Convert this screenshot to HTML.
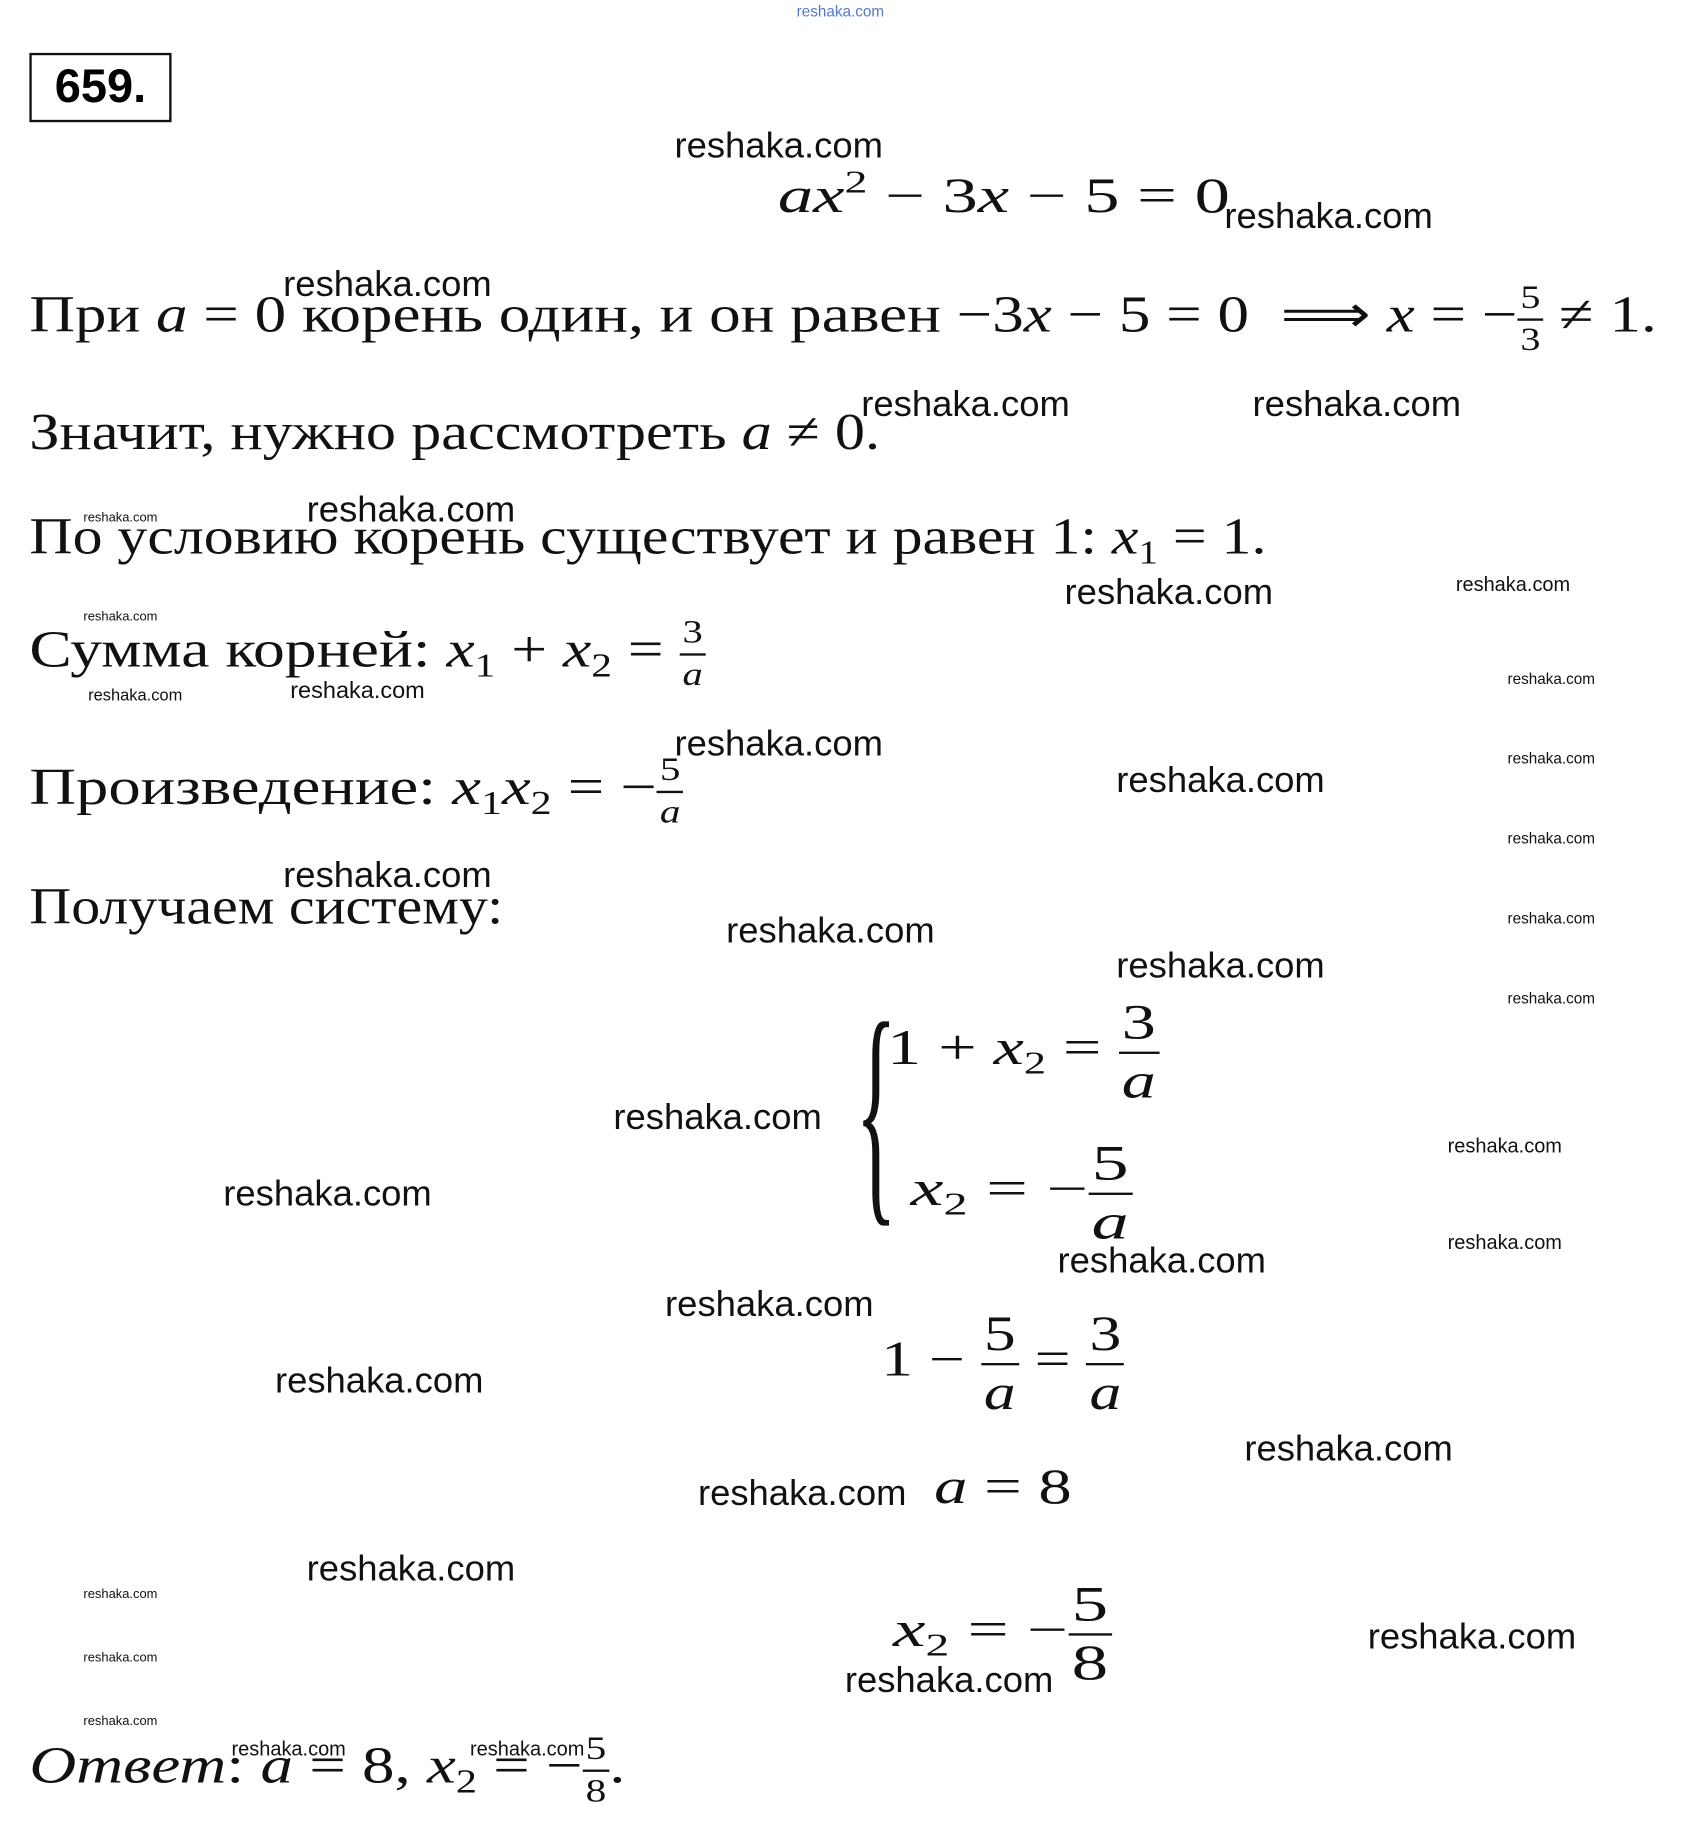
<!DOCTYPE html>
<html><head><meta charset="utf-8"><style>
html,body{margin:0;padding:0;background:#fff;}
body{width:1692px;height:1848px;overflow:hidden;position:relative;}
#w{position:absolute;left:0;top:0;width:1440px;height:1573px;transform:scale(1.175);transform-origin:0 0;}
.a{position:absolute;white-space:nowrap;transform-origin:0 50%;}
.t{font-family:"Liberation Serif",serif;font-size:44px;color:#111;line-height:1;}
.m{font-family:"Liberation Serif",serif;font-size:42px;color:#111;line-height:1;}
i{font-style:italic;}
.wm{font-family:"Liberation Sans",sans-serif;font-size:31px;color:#111;line-height:1;}
.wm2{font-family:"Liberation Sans",sans-serif;font-size:17px;color:#111;line-height:1;}
.wm3{font-family:"Liberation Sans",sans-serif;font-size:11px;color:#111;line-height:1;}
.f{display:inline-block;vertical-align:middle;text-align:center;line-height:1;}
.f span{display:block;}
.f .n{border-bottom:2px solid #111;padding:0 2px 3px;}
.f .d{padding-top:3px;}
sub{font-size:0.65em;vertical-align:-0.3em;}
sup{font-size:0.65em;vertical-align:0.6em;}
</style></head><body><div id="w">
<div class="a" style="left:678px;top:2px;font-family:'Liberation Sans',sans-serif;font-size:13px;color:#5577cc">reshaka.com</div>
<div class="a" style="left:25px;top:45px;width:117px;height:55px;border:2px solid #111;font-family:'Liberation Sans',sans-serif;font-weight:bold;font-size:40px;line-height:55px;text-align:center">659.</div>

<div class="a m" style="left:662px;top:142px;transform:scaleX(1.43)"><i>ax</i><sup>2</sup> − 3<i>x</i> − 5 = 0</div>
<div class="a t" style="left:25px;top:240px;transform:scaleX(1.22)">При <i>a</i> = 0 корень один, и он равен −3<i>x</i> − 5 = 0 &nbsp;⟹ <i>x</i> = −<span class="f" style="font-size:28px"><span class="n">5</span><span class="d">3</span></span> ≠ 1.</div>
<div class="a t" style="left:25px;top:346px;transform:scaleX(1.165)">Значит, нужно рассмотреть <i>a</i> ≠ 0.</div>
<div class="a t" style="left:25px;top:435px;transform:scaleX(1.157)">По условию корень существует и равен 1: <i>x</i><sub>1</sub> = 1.</div>
<div class="a t" style="left:25px;top:525px;transform:scaleX(1.23)">Сумма корней: <i>x</i><sub>1</sub> + <i>x</i><sub>2</sub> = <span class="f" style="font-size:28px"><span class="n">3</span><span class="d"><i>a</i></span></span></div>
<div class="a t" style="left:25px;top:642px;transform:scaleX(1.25)">Произведение: <i>x</i><sub>1</sub><i>x</i><sub>2</sub> = −<span class="f" style="font-size:28px"><span class="n">5</span><span class="d"><i>a</i></span></span></div>
<div class="a t" style="left:25px;top:750px;transform:scaleX(1.12)">Получаем систему:</div>

<div class="a" style="left:728px;top:840px;font-family:'Liberation Serif',serif;font-size:210px;line-height:210px;transform:scaleX(0.35);transform-origin:0 0;color:#111">{</div>
<div class="a m" style="left:755px;top:850px;transform:scaleX(1.38)">1 + <i>x</i><sub>2</sub> = <span class="f"><span class="n">3</span><span class="d"><i>a</i></span></span></div>
<div class="a m" style="left:775px;top:970px;transform:scaleX(1.5)"><i>x</i><sub>2</sub> = −<span class="f"><span class="n">5</span><span class="d"><i>a</i></span></span></div>
<div class="a m" style="left:750px;top:1115px;transform:scaleX(1.29)">1 − <span class="f"><span class="n">5</span><span class="d"><i>a</i></span></span> = <span class="f"><span class="n">3</span><span class="d"><i>a</i></span></span></div>
<div class="a m" style="left:795px;top:1245px;transform:scaleX(1.35)"><i>a</i> = 8</div>
<div class="a m" style="left:760px;top:1345px;transform:scaleX(1.48)"><i>x</i><sub>2</sub> = −<span class="f"><span class="n">5</span><span class="d">8</span></span></div>
<div class="a t" style="left:25px;top:1475px;transform:scaleX(1.256)"><i>Ответ</i>: <i>a</i> = 8, <i>x</i><sub>2</sub> = −<span class="f" style="font-size:28px"><span class="n">5</span><span class="d">8</span></span>.</div>

<div class="a wm" style="left:574px;top:108px">reshaka.com</div>
<div class="a wm" style="left:1042px;top:168px">reshaka.com</div>
<div class="a wm" style="left:241px;top:226px">reshaka.com</div>
<div class="a wm" style="left:733px;top:328px">reshaka.com</div>
<div class="a wm" style="left:1066px;top:328px">reshaka.com</div>
<div class="a wm" style="left:261px;top:418px">reshaka.com</div>
<div class="a wm" style="left:906px;top:488px">reshaka.com</div>
<div class="a wm" style="left:574px;top:617px">reshaka.com</div>
<div class="a wm" style="left:950px;top:648px">reshaka.com</div>
<div class="a wm" style="left:241px;top:729px">reshaka.com</div>
<div class="a wm" style="left:618px;top:776px">reshaka.com</div>
<div class="a wm" style="left:950px;top:806px">reshaka.com</div>
<div class="a wm" style="left:522px;top:935px">reshaka.com</div>
<div class="a wm" style="left:190px;top:1000px">reshaka.com</div>
<div class="a wm" style="left:900px;top:1057px">reshaka.com</div>
<div class="a wm" style="left:566px;top:1094px">reshaka.com</div>
<div class="a wm" style="left:234px;top:1159px">reshaka.com</div>
<div class="a wm" style="left:1059px;top:1217px">reshaka.com</div>
<div class="a wm" style="left:594px;top:1255px">reshaka.com</div>
<div class="a wm" style="left:261px;top:1319px">reshaka.com</div>
<div class="a wm" style="left:1164px;top:1377px">reshaka.com</div>
<div class="a wm" style="left:719px;top:1414px">reshaka.com</div>

<div class="a wm2" style="left:1239px;top:489px">reshaka.com</div>
<div class="a wm2" style="left:247px;top:578px;font-size:20px">reshaka.com</div>
<div class="a wm2" style="left:75px;top:584px;font-size:14px">reshaka.com</div>
<div class="a wm2" style="left:1232px;top:967px">reshaka.com</div>
<div class="a wm2" style="left:1232px;top:1049px">reshaka.com</div>
<div class="a wm2" style="left:197px;top:1480px">reshaka.com</div>
<div class="a wm2" style="left:400px;top:1480px">reshaka.com</div>

<div class="a wm3" style="left:71px;top:436px">reshaka.com</div>
<div class="a wm3" style="left:71px;top:520px">reshaka.com</div>
<div class="a wm3" style="left:1283px;top:571px;font-size:13px">reshaka.com</div>
<div class="a wm3" style="left:1283px;top:639px;font-size:13px">reshaka.com</div>
<div class="a wm3" style="left:1283px;top:707px;font-size:13px">reshaka.com</div>
<div class="a wm3" style="left:1283px;top:775px;font-size:13px">reshaka.com</div>
<div class="a wm3" style="left:1283px;top:843px;font-size:13px">reshaka.com</div>
<div class="a wm3" style="left:71px;top:1352px">reshaka.com</div>
<div class="a wm3" style="left:71px;top:1406px">reshaka.com</div>
<div class="a wm3" style="left:71px;top:1460px">reshaka.com</div>
</div></body></html>
